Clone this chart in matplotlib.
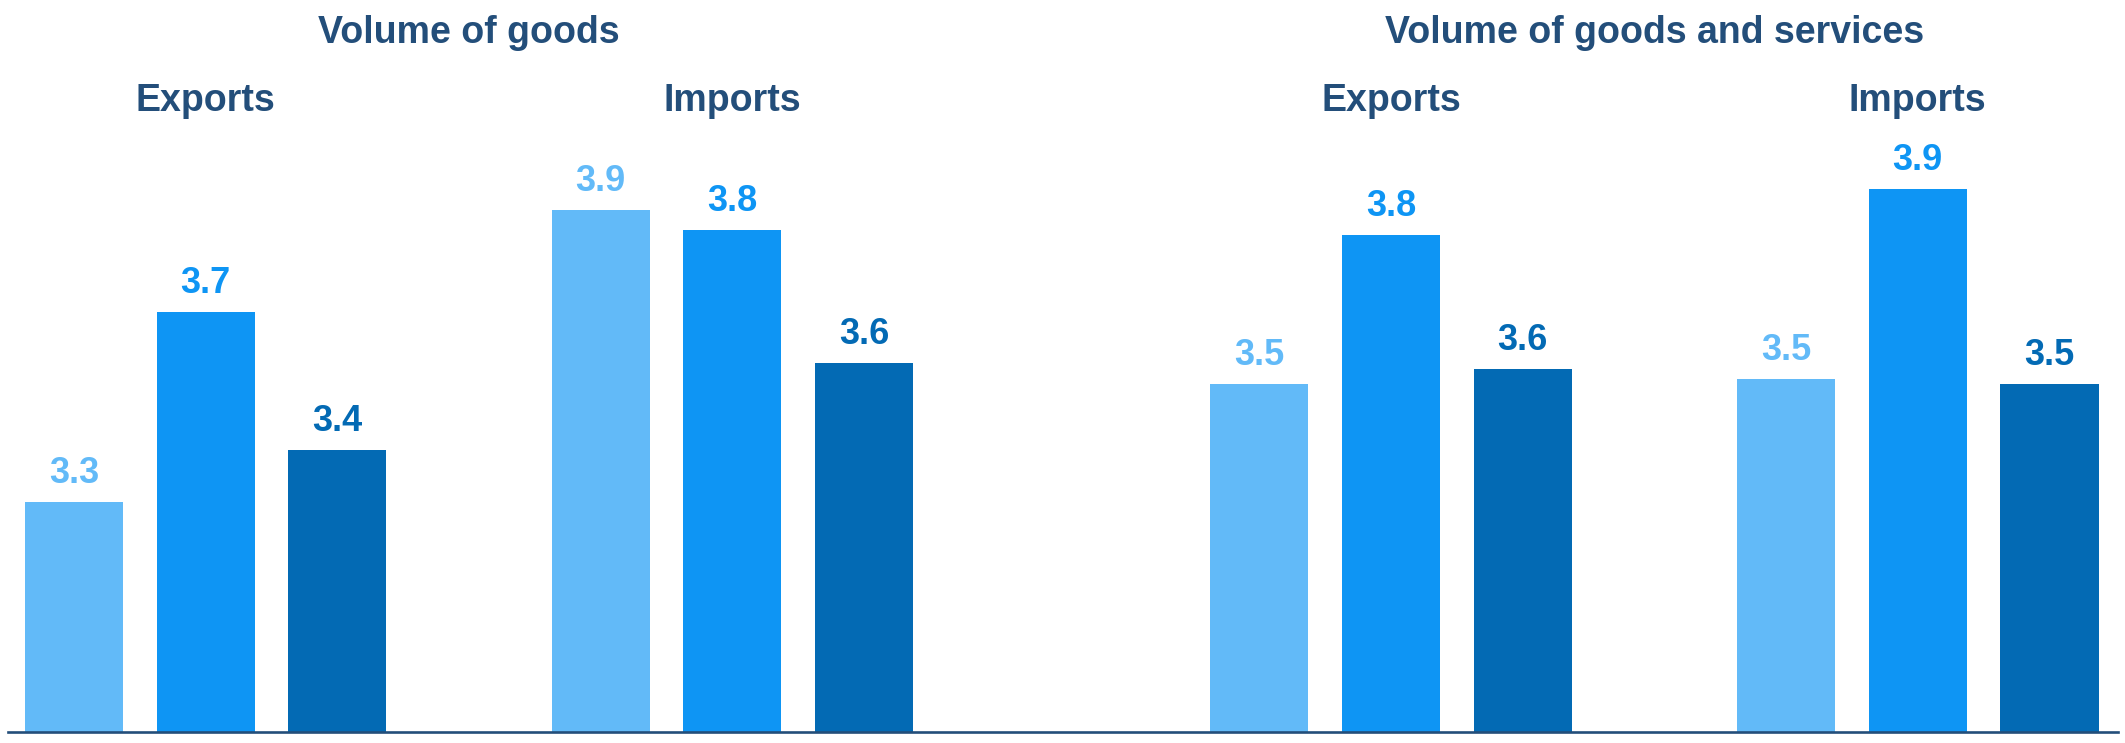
import numpy as np
import matplotlib.pyplot as plt
from matplotlib.transforms import blended_transform_factory

# -----------------------------
# Data (growth, %)
# -----------------------------
group_titles = ["Volume of goods", "Volume of goods and services"]
panel_titles = ["Exports", "Imports", "Exports", "Imports"]

series_1 = [3.30, 3.87, 3.53, 3.54]   # light
series_2 = [3.67, 3.83, 3.82, 3.91]   # mid
series_3 = [3.40, 3.57, 3.56, 3.53]   # dark

# -----------------------------
# Layout / style
# -----------------------------
W, H, DPI = 2125, 743, 100
panel_start = [0, 4, 9, 13]          # slot of first bar in each panel
bar_width = 0.745
y_min, y_max = 2.85, 4.28

colors = ["#62BAF8", "#0E95F4", "#036AB4"]
navy = "#234E7A"
font = "Liberation Sans"
fs_values = 26
fs_titles = 27


def main():
    fig = plt.figure(figsize=(W / DPI, H / DPI), dpi=DPI)
    ax = fig.add_axes([8 / W, 11 / H, 2110 / W, 732 / H])

    series = [series_1, series_2, series_3]
    for i, (vals, c) in enumerate(zip(series, colors)):
        xs = np.array(panel_start) + i
        ax.bar(xs, vals, width=bar_width, color=c, bottom=0, zorder=2)
        for x, v in zip(xs, vals):
            ax.annotate(f"{v:.1f}", xy=(x, v), xytext=(0, 13.7),
                        textcoords="offset points", ha="center", va="baseline",
                        color=c, fontsize=fs_values, fontweight="bold",
                        family=font)

    ax.set_xlim(-0.5, 15.52)
    ax.set_ylim(y_min, y_max)
    ax.set_yticks([])
    ax.set_xticks([])
    for side in ["top", "left", "right"]:
        ax.spines[side].set_visible(False)
    ax.spines["bottom"].set_color(navy)
    ax.spines["bottom"].set_linewidth(1.9)

    trans = blended_transform_factory(ax.transData, fig.transFigure)

    # panel headings over the middle bar of each trio
    for start, title in zip(panel_start, panel_titles):
        fig.text(start + 1, 1 - 111 / H, title, transform=trans, ha="center",
                 va="baseline", color=navy, fontsize=fs_titles,
                 fontweight="bold", family=font)

    # group headings centred over each pair of panels
    for g, title in enumerate(group_titles):
        centre = (panel_start[2 * g] + panel_start[2 * g + 1] + 2) / 2
        fig.text(centre, 1 - 43 / H, title, transform=trans, ha="center",
                 va="baseline", color=navy, fontsize=fs_titles,
                 fontweight="bold", family=font)

    fig.savefig("out.png", dpi=DPI, facecolor="white")


if __name__ == "__main__":
    main()
